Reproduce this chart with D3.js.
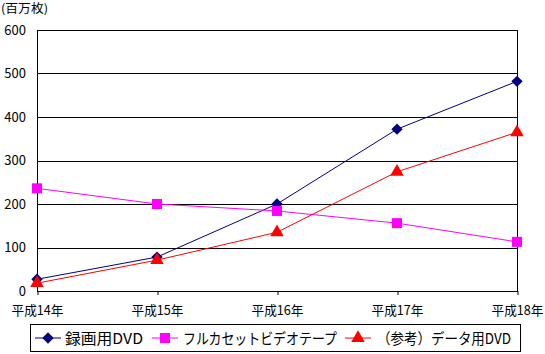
<!DOCTYPE html>
<html>
<head>
<meta charset="utf-8">
<script src="https://cdn.jsdelivr.net/npm/d3@7"></script>
<style>
  body { margin: 0; background: #fff; }
  svg text { font-family: "Noto Sans CJK JP", "Noto Sans", sans-serif; fill: #000; }
</style>
</head>
<body>
<div id="chart"></div>
<script>
const years = ["平成14年", "平成15年", "平成16年", "平成17年", "平成18年"];
const recDvd = [27, 78, 200, 372, 482];
const videoTape = [236, 200, 184, 156, 113];
const dataDvd = [18, 71, 135, 274, 365];
const yTicks = [0, 100, 200, 300, 400, 500, 600];

const series = [
  {name: "録画用DVD", values: recDvd, color: "#000080", marker: "diamond"},
  {name: "フルカセットビデオテープ", values: videoTape, color: "#ff00ff", marker: "square"},
  {name: "（参考）データ用DVD", values: dataDvd, color: "#ff0000", marker: "triangle"}
];

const W = 545, H = 354;
const margin = {top: 30, right: 28, bottom: 63, left: 37};
const width = W - margin.left - margin.right,
      height = H - margin.top - margin.bottom;

const svg = d3.select("#chart").append("svg")
  .attr("width", W).attr("height", H);

const g = svg.append("g")
  .attr("transform", `translate(${margin.left},${margin.top})`);

const x = d3.scalePoint().domain(years).range([0, width]);
const y = d3.scaleLinear().domain([0, 600]).range([height, 0]);

// gridlines
g.selectAll(".grid").data(yTicks).enter().append("line")
  .attr("x1", 0).attr("x2", width)
  .attr("y1", d => Math.round(y(d)) + 0.5).attr("y2", d => Math.round(y(d)) + 0.5)
  .attr("stroke", "#000").attr("shape-rendering", "crispEdges");

// plot border
g.append("rect").attr("x", 0.5).attr("y", 0.5)
  .attr("width", width).attr("height", height)
  .attr("fill", "none").attr("stroke", "#000").attr("shape-rendering", "crispEdges");

// Y Axis
const yAxis = g.append("g")
  .call(d3.axisLeft(y).tickValues(yTicks).tickSize(0).tickPadding(11));
yAxis.select(".domain").remove();
yAxis.selectAll("text").attr("font-size", 13).attr("font-family", "'Liberation Sans', Arial, sans-serif");

// X Axis
const xAxis = g.append("g")
  .attr("transform", `translate(0,${height})`)
  .call(d3.axisBottom(x).tickSize(4).tickPadding(11));
xAxis.select(".domain").remove();
xAxis.selectAll("line").attr("stroke", "#000").attr("transform", "translate(0.5,0)");
xAxis.selectAll("text").attr("font-size", 13)
  .attr("font-family", "'Noto Sans CJK JP', sans-serif")
  .attr("textLength", 52).attr("lengthAdjust", "spacingAndGlyphs");

// unit label
svg.append("text").attr("x", 1).attr("y", 13)
  .attr("font-size", 12).attr("textLength", 47).attr("lengthAdjust", "spacingAndGlyphs")
  .text("(百万枚)");

const symbolFor = {
  diamond: d3.symbol().type(d3.symbolSquare).size(64),
  square: d3.symbol().type(d3.symbolSquare).size(100),
  triangle: d3.symbol().type(d3.symbolTriangle).size(80)
};
const rot = m => m === "diamond" ? " rotate(45)" : "";

const line = d3.line().x((d, i) => x(years[i])).y(d => y(d));

series.forEach(s => {
  g.append("path").datum(s.values)
    .attr("fill", "none").attr("stroke", s.color).attr("stroke-width", 1)
    .attr("d", line);
  g.selectAll(null).data(s.values).enter().append("path")
    .attr("transform", (d, i) => `translate(${x(years[i])},${y(d)})` + rot(s.marker))
    .attr("d", symbolFor[s.marker]())
    .attr("fill", s.color);
});

// legend
const legend = svg.append("g");
legend.append("rect").attr("x", 30.5).attr("y", 324.5)
  .attr("width", 490).attr("height", 27)
  .attr("fill", "#fff").attr("stroke", "#000");

const legendItems = [
  {lx: 35, tx: 65, tw: 78},
  {lx: 152, tx: 183, tw: 154},
  {lx: 345, tx: 377, tw: 134}
];
series.forEach((s, i) => {
  const it = legendItems[i];
  const lg = legend.append("g").attr("transform", `translate(${it.lx},338)`);
  lg.append("line").attr("x1", 0).attr("x2", 26).attr("stroke", s.color);
  lg.append("path").attr("transform", "translate(13,0)" + rot(s.marker))
    .attr("d", symbolFor[s.marker]()).attr("fill", s.color);
  legend.append("text").attr("x", it.tx).attr("y", 344)
    .attr("font-size", 15).attr("textLength", it.tw).attr("lengthAdjust", "spacingAndGlyphs")
    .text(s.name);
});
</script>
</body>
</html>
